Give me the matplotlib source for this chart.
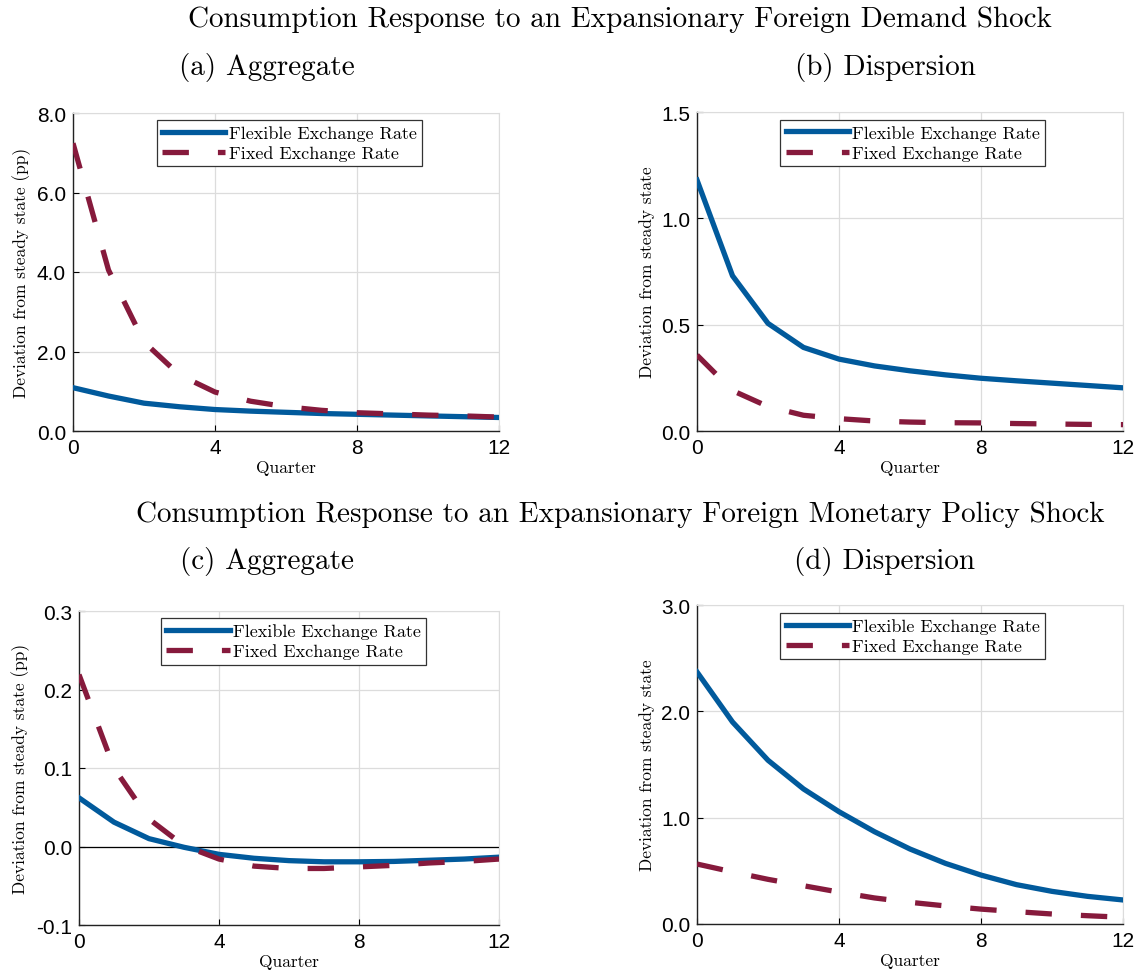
import matplotlib
matplotlib.use("Agg")
import matplotlib.pyplot as plt
import numpy as np

# quarters after the shock
quarters = np.arange(13)

# (a) demand shock, aggregate
agg_demand_flex = [1.09, 0.88, 0.70, 0.61, 0.54, 0.50, 0.47, 0.44, 0.42, 0.40, 0.38, 0.36, 0.34]
agg_demand_fixed = [7.24, 4.05, 2.24, 1.41, 0.98, 0.75, 0.61, 0.52, 0.46, 0.43, 0.40, 0.38, 0.35]

# (b) demand shock, dispersion
disp_demand_flex = [1.18, 0.73, 0.506, 0.393, 0.338, 0.306, 0.283, 0.264, 0.248, 0.236, 0.225, 0.214, 0.203]
disp_demand_fixed = [0.357, 0.19, 0.115, 0.074, 0.058, 0.047, 0.042, 0.039, 0.038, 0.035, 0.033, 0.031, 0.030]

# (c) monetary policy shock, aggregate
agg_mp_flex = [0.062, 0.031, 0.010, -0.001, -0.010, -0.015, -0.018, -0.0195, -0.0195, -0.019, -0.0175, -0.016, -0.0136]
agg_mp_fixed = [0.219, 0.10, 0.035, 0.001, -0.016, -0.025, -0.028, -0.028, -0.026, -0.024, -0.021, -0.019, -0.016]

# (d) monetary policy shock, dispersion
disp_mp_flex = [2.37, 1.90, 1.54, 1.27, 1.056, 0.868, 0.705, 0.57, 0.46, 0.37, 0.307, 0.26, 0.226]
disp_mp_fixed = [0.564, 0.49, 0.42, 0.36, 0.30, 0.245, 0.204, 0.17, 0.14, 0.116, 0.094, 0.078, 0.063]

blue = '#015a9c'
maroon = '#861a3c'
serif = 'cmr10'
sans = 'Liberation Sans'

W, H = 1136, 978
fig = plt.figure(figsize=(W / 100, H / 100), dpi=100)


def px_axes(left, top, right, bottom):
    return fig.add_axes([left / W, 1 - bottom / H, (right - left) / W, (bottom - top) / H])


def draw_panel(ax, flex, fixed, yticks, ylabel, leg_anchor, zero_line=False):
    if zero_line:
        ax.axhline(0, color='black', lw=0.9, zorder=1)
    ax.plot(quarters, flex, color=blue, lw=3.8, label='Flexible Exchange Rate', zorder=3)
    ax.plot(quarters, fixed, color=maroon, lw=3.8, dashes=(5, 5.5),
            label='Fixed Exchange Rate', zorder=4)
    ax.set_xlim(0, 12)
    ax.set_ylim(yticks[0], yticks[-1])
    ax.set_xticks([0, 4, 8, 12])
    ax.set_xticklabels(['0', '4', '8', '12'], fontfamily=sans, fontsize=15)
    ax.set_yticks(yticks)
    ax.set_yticklabels(['%.1f' % v for v in yticks], fontfamily=sans, fontsize=15)
    ax.grid(True, color='#dcdcdc', lw=0.9)
    ax.set_axisbelow(True)
    for side in ['top', 'right']:
        ax.spines[side].set_color('#dcdcdc')
    for side in ['left', 'bottom']:
        ax.spines[side].set_color('#222222')
        ax.spines[side].set_linewidth(1.0)
    ax.tick_params(direction='in', length=4, width=0.8, pad=5, top=False, right=False)
    ax.set_xlabel('Quarter', fontfamily=serif, fontsize=12.5, labelpad=2)
    ax.set_ylabel(ylabel, fontfamily=serif, fontsize=12.5, labelpad=4)
    leg = ax.legend(loc='upper left', bbox_to_anchor=leg_anchor, prop={'family': serif, 'size': 13},
                    handlelength=3.5, handletextpad=0.2, labelspacing=0.25, borderpad=0.28,
                    borderaxespad=0, fancybox=False, framealpha=1, edgecolor='#333333')
    leg.get_frame().set_linewidth(0.9)


ax_a = px_axes(73, 114, 499, 432)
draw_panel(ax_a, agg_demand_flex, agg_demand_fixed, [0, 2, 4, 6, 8],
           'Deviation from steady state (pp)', (0.197, 0.978))

ax_b = px_axes(697, 113, 1123, 432)
draw_panel(ax_b, disp_demand_flex, disp_demand_fixed, [0, 0.5, 1.0, 1.5],
           'Deviation from steady state', (0.196, 0.976))

ax_c = px_axes(79, 612, 499, 926)
draw_panel(ax_c, agg_mp_flex, agg_mp_fixed, [-0.1, 0.0, 0.1, 0.2, 0.3],
           'Deviation from steady state (pp)', (0.196, 0.977), zero_line=True)

ax_d = px_axes(697, 606, 1123, 925)
draw_panel(ax_d, disp_mp_flex, disp_mp_fixed, [0, 1, 2, 3],
           'Deviation from steady state', (0.196, 0.975))

# titles
fig.text(620 / W, 1 - 20 / H, 'Consumption Response to an Expansionary Foreign Demand Shock',
         ha='center', va='center', fontfamily=serif, fontsize=21)
fig.text(267 / W, 1 - 68 / H, '(a) Aggregate', ha='center', va='center', fontfamily=serif, fontsize=21)
fig.text(885 / W, 1 - 68 / H, '(b) Dispersion', ha='center', va='center', fontfamily=serif, fontsize=21)
fig.text(620 / W, 1 - 515 / H, 'Consumption Response to an Expansionary Foreign Monetary Policy Shock',
         ha='center', va='center', fontfamily=serif, fontsize=21)
fig.text(267 / W, 1 - 562 / H, '(c) Aggregate', ha='center', va='center', fontfamily=serif, fontsize=21)
fig.text(885 / W, 1 - 562 / H, '(d) Dispersion', ha='center', va='center', fontfamily=serif, fontsize=21)

fig.savefig('out.png', dpi=100)
